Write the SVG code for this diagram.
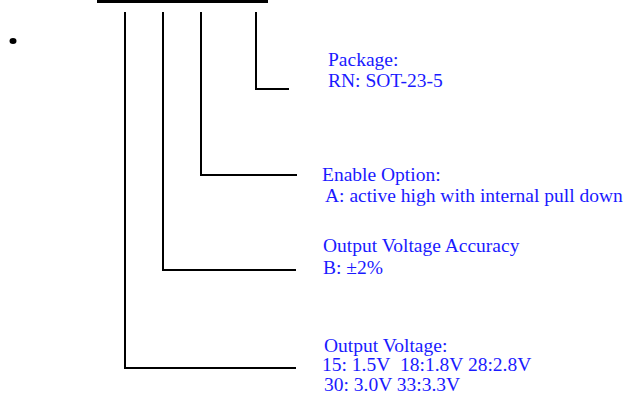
<svg xmlns="http://www.w3.org/2000/svg" width="627" height="399" viewBox="0 0 627 399">
<style>
.ln{fill:none;stroke:#000;stroke-width:2}
.t{font-family:"Liberation Serif","Times New Roman",serif;font-size:19.5px;fill:#1a1aff}
</style>
<rect width="627" height="399" fill="#fff"/>
<g id="header">
<rect x="97" y="0" width="171" height="3" fill="#000"/>
<ellipse cx="13" cy="41" rx="3.5" ry="3" fill="#000"/>
</g>
<g id="connectors">
<polyline class="ln" points="256,12 256,89 289,89"/>
<polyline class="ln" points="201,12 201,175 297,175"/>
<polyline class="ln" points="163,12 163,270 296,270"/>
<polyline class="ln" points="125,12 125,368 296,368"/>
</g>
<g id="package">
<text class="t" x="328" y="66">Package:</text>
<text class="t" x="328" y="87">RN: SOT-23-5</text>
</g>
<g id="enable">
<text class="t" x="322" y="181">Enable Option:</text>
<text class="t" x="325" y="202">A: active high with internal pull down</text>
</g>
<g id="accuracy">
<text class="t" x="323" y="252">Output Voltage Accuracy</text>
<text class="t" x="323" y="274">B: ±2%</text>
</g>
<g id="voltage">
<text class="t" x="324" y="352">Output Voltage:</text>
<text class="t" x="322" y="371">15: 1.5V<tspan x="400">18:1.8V</tspan> 28:2.8V</text>
<text class="t" x="324" y="391">30: 3.0V 33:3.3V</text>
</g>
</svg>
